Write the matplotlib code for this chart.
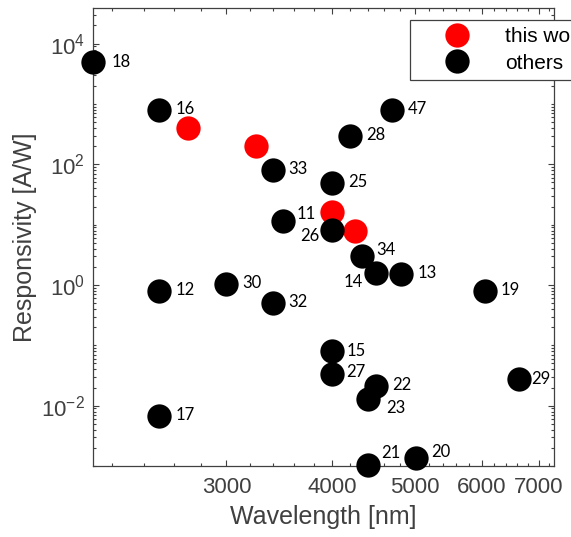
import numpy as np
import matplotlib
matplotlib.use("Agg")
import matplotlib.pyplot as plt
from matplotlib.ticker import LogLocator, NullFormatter

plt.rcParams['font.family'] = ['Liberation Sans', 'DejaVu Sans']

# this work (red points)
this_x = [2700, 3250, 4000, 4250]
this_y = [400, 200, 16, 7.9]

# others (black points), with their reference numbers
ref_ids = ['18', '16', '33', '47', '28', '25', '11', '26', '34', '14', '13',
           '19', '12', '30', '32', '17', '15', '27', '22', '23', '29', '21', '20']
ref_x = [2090, 2500, 3400, 4700, 4200, 4000, 3500, 4000, 4340, 4500, 4820,
         6050, 2500, 3000, 3400, 2500, 4000, 4000, 4500, 4400, 6630, 4410, 5020]
ref_y = [4950, 800, 82, 790, 290, 49, 11.4, 8.1, 3.0, 1.6, 1.5,
         0.8, 0.8, 1.02, 0.5, 0.0068, 0.081, 0.034, 0.021, 0.0128, 0.0274, 0.00104, 0.00135]

x_major = [3000, 4000, 5000, 6000, 7000]
x_labels = ['3000', '4000', '5000', '6000', '7000']
y_major = [1e-2, 1e0, 1e2, 1e4]

# label offsets in pixels (dx, dy, ha) where they differ from the default
label_pos = {
    '11': (13, 7, 'left'),
    '26': (-13, -6, 'right'),
    '34': (14, 6, 'left'),
    '14': (-13, -9, 'right'),
    '23': (19, -9, 'left'),
    '21': (13, 12, 'left'),
    '20': (15, 6, 'left'),
    '18': (18, 0, 'left'),
    '29': (13, 0, 'left'),
    '15': (14, 0, 'left'),
    '27': (14, 2, 'left'),
}

axis_col = '#404040'

fig = plt.figure(figsize=(5.71, 5.37), dpi=100)
ax = fig.add_axes([93.3 / 571, 1 - 466 / 537, (554 - 93.3) / 571, (466 - 8) / 537])

ms = 17.5
ax.plot(this_x, this_y, 'o', color='red', markersize=ms, markeredgewidth=0,
        label='this work', clip_on=False, zorder=2)
ax.plot(ref_x, ref_y, 'o', color='black', markersize=ms, markeredgewidth=0,
        label='others', clip_on=False, zorder=3)

for rid, x, y in zip(ref_ids, ref_x, ref_y):
    dx, dy, ha = label_pos.get(rid, (16, 1, 'left'))
    ax.annotate(rid, (x, y), xytext=(dx * 0.72, dy * 0.72), textcoords='offset points',
                ha=ha, va='center', fontsize=12, family=['Lato', 'DejaVu Sans'],
                color='black', zorder=4, annotation_clip=False)

ax.set_xscale('log')
ax.set_yscale('log')
ax.set_xlim(2090, 7300)
ax.set_ylim(1e-3, 3.9e4)

ax.set_xticks(x_major, labels=x_labels)
ax.set_xticks(list(range(2200, 7400, 200)), minor=True)
ax.xaxis.set_minor_formatter(NullFormatter())
ax.set_yticks(y_major)
ax.yaxis.set_minor_locator(LogLocator(base=10, subs=np.arange(1, 10), numticks=100))
ax.yaxis.set_minor_formatter(NullFormatter())

ax.tick_params(which='both', direction='in', top=True, right=True, colors=axis_col,
               labelsize=16, width=0.8)
ax.tick_params(which='major', length=4.5, pad=6)
ax.tick_params(axis='x', which='major', pad=8)
ax.tick_params(which='minor', length=2.5)
for sp in ax.spines.values():
    sp.set_color(axis_col)
    sp.set_linewidth(0.9)

ax.set_xlabel('Wavelength [nm]', fontsize=18, color=axis_col)
ax.set_ylabel('Responsivity [A/W]', fontsize=18, color=axis_col)
ax.xaxis.set_label_coords(0.5, -0.085)
ax.yaxis.set_label_coords(-0.122, 0.5)

leg = ax.legend(loc='upper left', bbox_to_anchor=(410 / 571, 1 - 20 / 537),
                bbox_transform=fig.transFigure, borderaxespad=0, fontsize=15,
                numpoints=1, handlelength=3.8, handletextpad=0.42, borderpad=0.34,
                labelspacing=0.37, fancybox=False, framealpha=1)
leg.get_frame().set_edgecolor(axis_col)
leg.get_frame().set_linewidth(0.9)
for t in leg.get_texts():
    t.set_color('black')

fig.savefig('out.png', dpi=100)
